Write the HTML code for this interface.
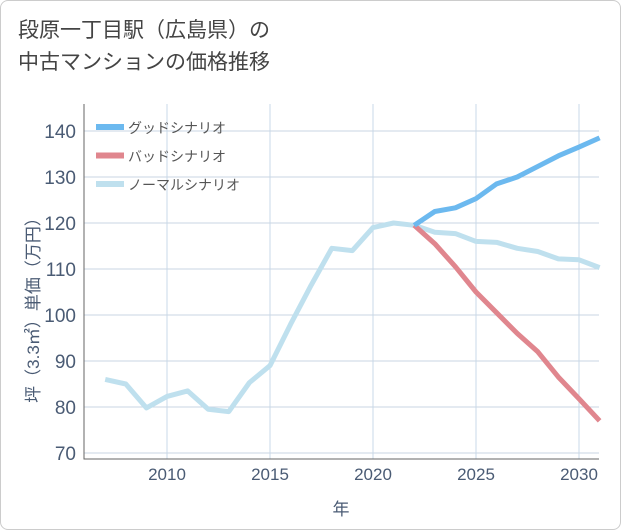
<!DOCTYPE html>
<html><head><meta charset="utf-8"><style>
body{margin:0;background:#fff;}
#wrap{position:relative;width:619px;height:528px;border:1px solid #ccc;border-radius:8px;background:#fff;font-family:"Liberation Sans","Noto Sans CJK JP",sans-serif;}
#title{position:absolute;left:17px;top:14px;font-size:21px;line-height:32px;color:#444;}
svg{position:absolute;left:0;top:0;}
</style></head><body>
<div id="wrap">
<div id="title">段原一丁目駅（広島県）の<br>中古マンションの価格推移</div>
<svg id="c" width="621" height="530"></svg>
</div>
<script>
const years=[2007,2008,2009,2010,2011,2012,2013,2014,2015,2016,2017,2018,2019,2020,2021,2022,2023,2024,2025,2026,2027,2028,2029,2030,2031];
const normal=[86,85,79.8,82.3,83.5,79.5,79,85.3,89,98,106.5,114.5,114,119,120,119.5,118,117.7,116,115.8,114.5,113.8,112.2,112,110.3];
const goodYears=[2022,2023,2024,2025,2026,2027,2028,2029,2030,2031];
const good=[119.5,122.5,123.3,125.3,128.5,130,132.3,134.6,136.5,138.5];
const bad=[119.5,115.5,110.5,105,100.5,96,92,86.5,81.8,77];
const yTicks=[70,80,90,100,110,120,130,140];
const xTicks=[2010,2015,2020,2025,2030];
const NS="http://www.w3.org/2000/svg";
const svg=document.getElementById('c');
const L=83,R=598,T=103,B=458;
const x=v=>166+(v-2010)*20.6;
const y=v=>130+(140-v)*4.6;
function el(t,a,p){const e=document.createElementNS(NS,t);for(const k in a)e.setAttribute(k,a[k]);(p||svg).appendChild(e);return e;}
yTicks.forEach(v=>{
 const g=el('line',{x1:L,x2:R,y1:y(v),y2:y(v),stroke:'#c8d4e3','stroke-width':1});
 
 
 const t=el('text',{x:L-8,y:y(v)+7,'text-anchor':'end','font-size':19,fill:'#4a5b74'});t.textContent=v;
 
 
});
xTicks.forEach(v=>{
 const g=el('line',{x1:x(v),x2:x(v),y1:T,y2:B,stroke:'#c8d8e8','stroke-width':1});
 
 
 const t=el('text',{x:x(v),y:B+21,'text-anchor':'middle','font-size':17,fill:'#4a5b74'});t.textContent=v;
 
 
});
const ax=el('path',{d:`M${L},${T}V${B}H${R}`,stroke:'#666',fill:'none','stroke-width':1});


const xt=el('text',{x:340,y:514,'text-anchor':'middle','font-size':17,fill:'#4a5b74'});xt.textContent='年';


const yt=el('text',{x:0,y:0,'text-anchor':'middle','font-size':17,fill:'#4a5b74',transform:'translate(38,305) rotate(-90)'});yt.textContent='坪（3.3㎡）単価（万円）';


function line(xs,vs,color,name){
 const p=el('polyline',{points:xs.map((d,i)=>x(d)+','+y(vs[i])).join(' '),fill:'none',stroke:color,'stroke-width':5,'stroke-linejoin':'round'});
 
 
}
line(years,normal,'#bfe0ee','normal-scenario-line');
line(goodYears,bad,'#e0868e','bad-scenario-line');
line(goodYears,good,'#6cb9ef','good-scenario-line');
const leg=[['グッドシナリオ','#6cb9ef'],['バッドシナリオ','#e0868e'],['ノーマルシナリオ','#bfe0ee']];
leg.forEach((l,i)=>{
 const g=el('g',{});
 
 
 el('line',{x1:95,x2:123,y1:126+i*28.5,y2:126+i*28.5,stroke:l[1],'stroke-width':6},g);
 const t=el('text',{x:127,y:132+i*28.5,'font-size':14,fill:'#555'},g);t.textContent=l[0];
});
</script>
</body></html>
